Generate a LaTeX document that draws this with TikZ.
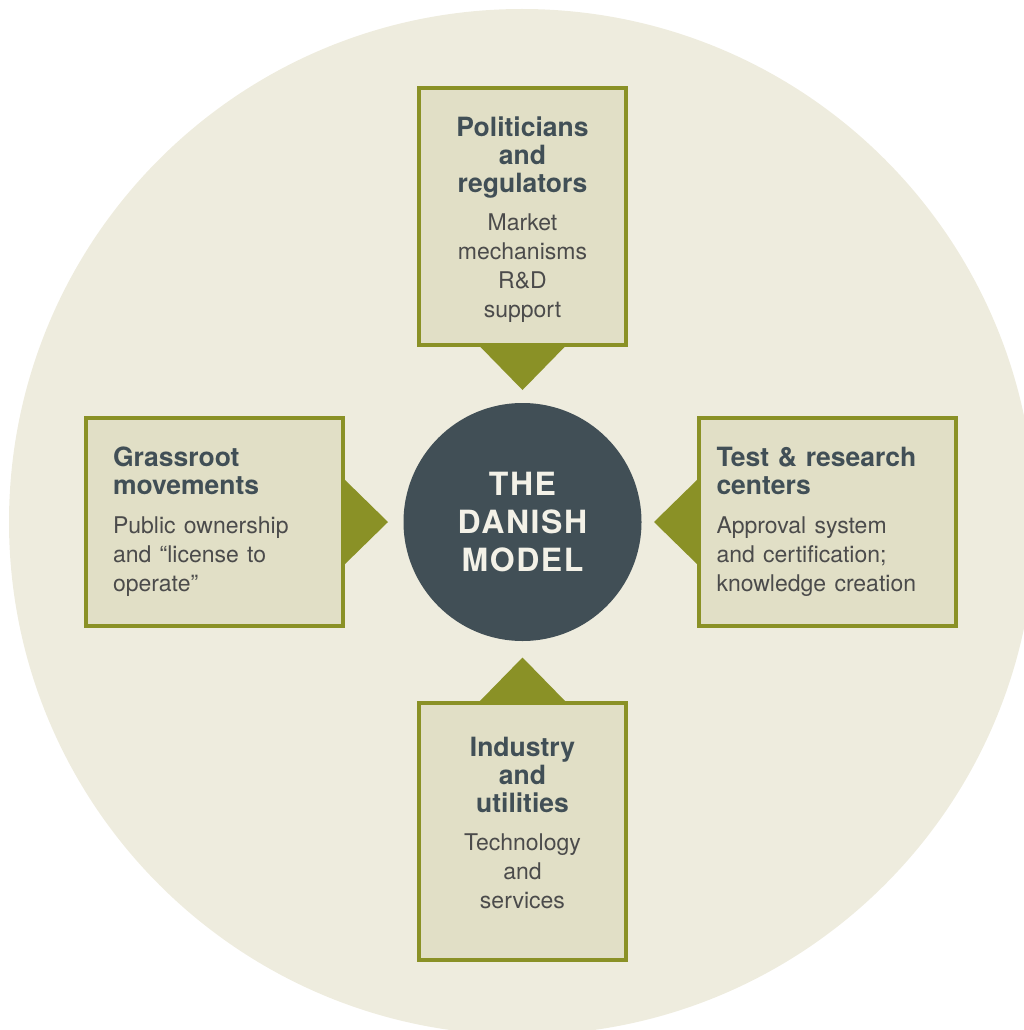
\documentclass[tikz,border=0pt]{standalone}
\usepackage{fontspec}
\setmainfont{TeX Gyre Heros}
\newfontfamily\modelfont[LetterSpace=5]{TeX Gyre Heros}
\usetikzlibrary{calc}
\definecolor{bgcircle}{HTML}{EEECDE}
\definecolor{boxfill}{HTML}{E1DFC6}
\definecolor{olivedge}{HTML}{8A9126}
\definecolor{slate}{HTML}{414F56}
\definecolor{bodygrey}{HTML}{4B4B4B}
\definecolor{cream}{HTML}{F3F1E7}
\newcommand{\headtext}[1]{{\fontsize{26.5}{28}\selectfont\spaceskip=0.33em\bfseries\color{slate}#1\par}}
\newcommand{\bodytext}[1]{{\fontsize{23}{29}\selectfont\spaceskip=0.36em\color{bodygrey}#1\par}}

\begin{document}
\begin{tikzpicture}[x=1pt,y=-1pt,
  box/.style={draw=olivedge, line width=4pt, fill=boxfill, inner sep=0pt},
  tallbox/.style={box, minimum width=207pt, minimum height=257pt, text width=200pt, align=center},
  widebox/.style={box, minimum width=257pt, minimum height=208pt, text width=203pt, align=left},
  pointer/.style={fill=olivedge}]
  \useasboundingbox (0,0) rectangle (1024,1030);
  \fill[bgcircle] (522,522) circle[radius=513];

  \node[circle, fill=slate, minimum size=238pt, inner sep=0pt, text=cream, text width=200pt,
    align=center, font=\fontsize{32}{38}\selectfont\bfseries\modelfont] (model) at (522.5,522)
    {THE\\DANISH\\MODEL};

  \node[tallbox] (politics) at (522.5,216.5)
    {\hrule height 0pt\vspace{6pt}
     \headtext{Politicians\\and\\regulators}\vspace{9pt}
     \bodytext{Market\\mechanisms\\R\&D\\support}};
  \node[widebox] (grassroot) at (214.5,522)
    {\headtext{Grassroot\\movements}\vspace{10pt}
     \bodytext{Public ownership\\and “license to\\operate”}};
  \node[widebox, text width=222pt] (research) at (827.5,522)
    {\headtext{Test \& research\\centers}\vspace{10pt}
     \bodytext{Approval system\\and certification;\\knowledge creation}};
  \node[tallbox] (industry) at (522.5,831)
    {\headtext{Industry\\and\\utilities}\vspace{9pt}
     \bodytext{Technology\\and\\services}\vspace{16pt}\hrule height 0pt};

  % pointers to the model
  \fill[pointer] ($(politics.south)+(-44,-2)$) -- ($(politics.south)+(44,-2)$) -- ($(politics.south)+(0,43)$) -- cycle;
  \fill[pointer] ($(industry.north)+(-44,2)$) -- ($(industry.north)+(44,2)$) -- ($(industry.north)+(0,-43)$) -- cycle;
  \fill[pointer] ($(grassroot.east)+(-2,-44)$) -- ($(grassroot.east)+(-2,44)$) -- ($(grassroot.east)+(43,0)$) -- cycle;
  \fill[pointer] ($(research.west)+(2,-44)$) -- ($(research.west)+(2,44)$) -- ($(research.west)+(-43,0)$) -- cycle;
\end{tikzpicture}
\end{document}
